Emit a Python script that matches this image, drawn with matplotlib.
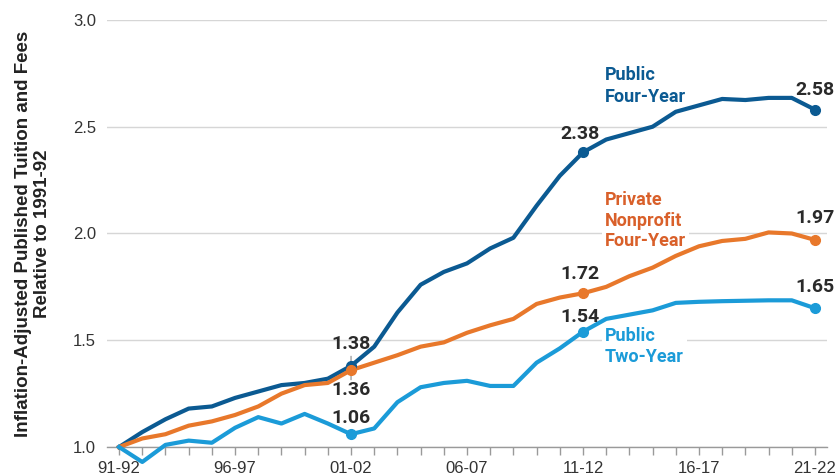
import matplotlib
matplotlib.use("Agg")
import matplotlib.pyplot as plt

years = ["91-92", "92-93", "93-94", "94-95", "95-96", "96-97", "97-98", "98-99",
         "99-00", "00-01", "01-02", "02-03", "03-04", "04-05", "05-06", "06-07",
         "07-08", "08-09", "09-10", "10-11", "11-12", "12-13", "13-14", "14-15",
         "15-16", "16-17", "17-18", "18-19", "19-20", "20-21", "21-22"]

public_four = [1.00, 1.07, 1.13, 1.18, 1.19, 1.23, 1.26, 1.29, 1.30, 1.32, 1.38,
               1.47, 1.63, 1.76, 1.82, 1.86, 1.93, 1.98, 2.13, 2.27, 2.38,
               2.44, 2.47, 2.50, 2.57, 2.60, 2.63, 2.625, 2.635, 2.635, 2.58]
private_four = [1.00, 1.04, 1.06, 1.10, 1.12, 1.15, 1.19, 1.25, 1.29, 1.30, 1.36,
                1.395, 1.43, 1.47, 1.49, 1.535, 1.57, 1.60, 1.67, 1.70, 1.72,
                1.75, 1.80, 1.84, 1.895, 1.94, 1.965, 1.975, 2.005, 2.00, 1.97]
public_two = [1.00, 0.93, 1.01, 1.03, 1.02, 1.09, 1.14, 1.11, 1.155, 1.11, 1.06,
              1.087, 1.21, 1.28, 1.30, 1.31, 1.286, 1.286, 1.395, 1.462, 1.54,
              1.60, 1.62, 1.64, 1.675, 1.68, 1.683, 1.685, 1.687, 1.687, 1.65]

dark = "#0b5a92"
orange = "#e8782b"
orange_txt = "#d9602a"
light = "#1b9bd8"

plt.rcParams["font.family"] = ["Liberation Sans", "DejaVu Sans"]
narrow = ["Liberation Sans Narrow", "Roboto", "DejaVu Sans"]

fig = plt.figure(figsize=(8.38, 4.75), dpi=100)
ax = fig.add_axes([0.1277, 0.0589, 0.8592, 0.8991])

x = list(range(len(years)))
ax.plot(x, public_four, color=dark, lw=3, clip_on=False, zorder=3, solid_joinstyle="round")
ax.plot(x, private_four, color=orange, lw=3, clip_on=False, zorder=4, solid_joinstyle="round")
ax.plot(x, public_two, color=light, lw=3, clip_on=False, zorder=5, solid_joinstyle="round")

# highlighted points
marks = [(public_four, dark, [10, 20, 30], [22, 18, 20]),
         (private_four, orange, [10, 20, 30], [-20, 19, 22]),
         (public_two, light, [10, 20, 30], [16, 15, 21])]
for series, col, idx, offs in marks:
    for i, off in zip(idx, offs):
        ax.plot(x[i], series[i], "o", color=col, ms=7, clip_on=False, zorder=6)
        dx = -3 if i == 20 else 0
        ax.annotate(f"{series[i]:.2f}", (x[i], series[i]), xytext=(dx, off),
                    textcoords="offset pixels", ha="center", va="center",
                    fontsize=14, fontweight="bold", family=narrow,
                    color="#2a2a2a", zorder=7)

# leader lines at 01-02
ax.annotate("", (10, public_four[10]), xytext=(10, public_four[10] + 0.045),
            arrowprops=dict(arrowstyle="-", color="#888888", lw=0.8, shrinkA=0, shrinkB=0),
            zorder=2)
ax.annotate("", (10, private_four[10]), xytext=(10, private_four[10] - 0.045),
            arrowprops=dict(arrowstyle="-", color="#888888", lw=0.8, shrinkA=0, shrinkB=0),
            zorder=2)

# series labels
box = dict(facecolor="white", edgecolor="none", pad=2)
ax.text(20.95, 2.69, "Public\nFour-Year", color=dark, fontsize=13, fontweight="bold",
        family=narrow, va="center", ha="left", linespacing=1.25)
ax.text(20.95, 2.06, "Private\nNonprofit\nFour-Year", color=orange_txt, fontsize=13,
        fontweight="bold", family=narrow, va="center", ha="left", linespacing=1.2,
        bbox=box, zorder=2)
ax.text(20.95, 1.47, "Public\nTwo-Year", color=light, fontsize=13, fontweight="bold",
        family=narrow, va="center", ha="left", linespacing=1.25, bbox=box, zorder=2)

ax.set_xlim(-0.52, 30.52)
ax.set_ylim(1.0, 3.0)
ax.set_yticks([1.0, 1.5, 2.0, 2.5, 3.0])
ax.set_xticks(x)
ax.set_xticklabels([y if i % 5 == 0 else "" for i, y in enumerate(years)])
ax.tick_params(axis="x", length=6, width=1, color="#9a9a9a", pad=4,
               labelsize=12, labelcolor="#333333")
ax.tick_params(axis="y", length=0, pad=8, labelsize=12, labelcolor="#333333")
ax.grid(axis="y", color="#d6d6d6", lw=1, zorder=0)
ax.set_axisbelow(True)
for s in ["top", "right", "left"]:
    ax.spines[s].set_visible(False)
ax.spines["bottom"].set_color("#9a9a9a")
ax.spines["bottom"].set_linewidth(1)

ax.set_ylabel("Inflation-Adjusted Published Tuition and Fees\nRelative to 1991-92",
              fontsize=13.5, fontweight="bold", color="#222222", labelpad=16,
              linespacing=1.1)

fig.savefig("out.png", dpi=100)
